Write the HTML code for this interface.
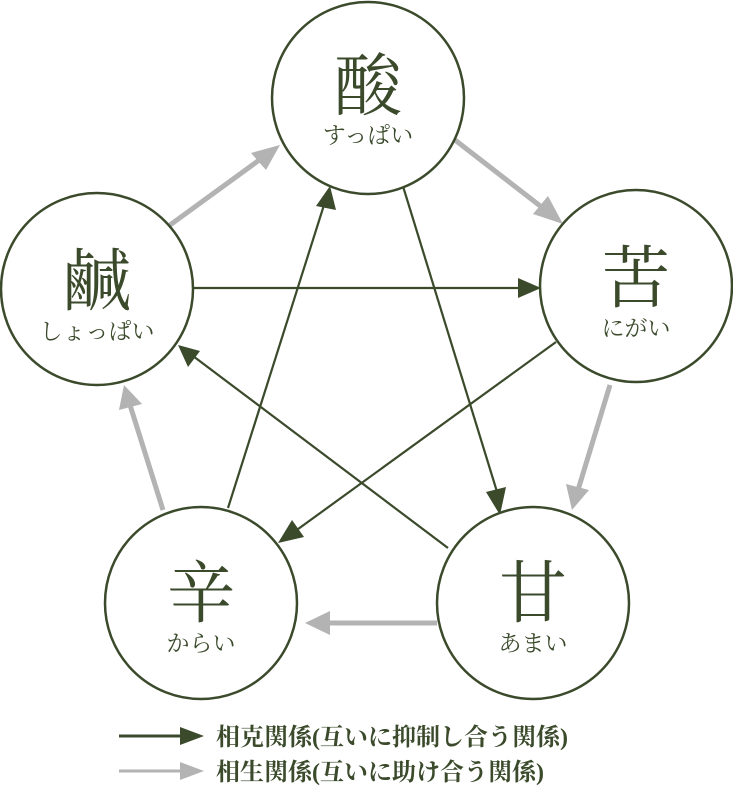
<!DOCTYPE html>
<html><head><meta charset="utf-8"><style>
html,body{margin:0;padding:0;background:#fff;}
svg{display:block;}
.big{font-family:"Liberation Serif","Noto Serif CJK SC",serif;font-size:68px;fill:#3a4a2b;text-anchor:middle;}
.sm{font-family:"Liberation Serif","Noto Serif CJK SC",serif;font-size:23px;fill:#3a4a2b;text-anchor:middle;}
.lg{font-family:"Liberation Serif","Noto Serif CJK SC",serif;font-size:24px;fill:#3a4a2b;font-weight:bold;}
</style></head><body>
<svg width="733" height="786" viewBox="0 0 733 786" xmlns="http://www.w3.org/2000/svg">
<g stroke="#3a4a2b" stroke-width="2.2" fill="none">
<path d="M398 170 L498 495"/>
<path d="M193 288 L522 288"/>
<path d="M556 342 L294 532"/>
<path d="M448 548 L193 356"/>
<path d="M228 508 L324 205"/>
</g>
<g fill="#3a4a2b">
<polygon points="500,515 486,492 506,487"/>
<polygon points="541,288 518,278 518,298"/>
<polygon points="278,543 292,520 304,537"/>
<polygon points="178,345 200,351 188,367"/>
<polygon points="330,186 336,210 316,206"/>
</g>
<g stroke="#b3b3b3" stroke-width="5" fill="none">
<path d="M455 140 L548 212"/>
<path d="M610 385 L578 490"/>
<path d="M437 623 L325 623"/>
<path d="M163 510 L130 405"/>
<path d="M170 225 L262 158"/>
</g>
<g fill="#b3b3b3">
<polygon points="563,224 533,214 548,196"/>
<polygon points="572,510 566,484 589,490"/>
<polygon points="305,623 330,611 330,635"/>
<polygon points="124,385 142,404 119,410"/>
<polygon points="280,145 266,170 251,153"/>
</g>
<g fill="#fff" stroke="#3a4a2b" stroke-width="2.5">
<circle cx="368" cy="98" r="96"/>
<circle cx="636" cy="286" r="96"/>
<circle cx="533" cy="603" r="96"/>
<circle cx="201" cy="603" r="96"/>
<circle cx="97" cy="289" r="96"/>
</g>
<text class="big" x="368" y="110">酸</text><text class="sm" x="368" y="143">すっぱい</text>
<text class="big" x="636" y="302">苦</text><text class="sm" x="636" y="336">にがい</text>
<text class="big" x="533" y="617">甘</text><text class="sm" x="533" y="651">あまい</text>
<text class="big" x="201" y="617">辛</text><text class="sm" x="201" y="651">からい</text>
<text class="big" x="97" y="305">鹹</text><text class="sm" x="97" y="339">しょっぱい</text>
<path d="M119 736 L186 736" stroke="#3a4a2b" stroke-width="3"/>
<polygon points="180,727 204,736 180,745" fill="#3a4a2b"/>
<path d="M119 771 L186 771" stroke="#b3b3b3" stroke-width="3"/>
<polygon points="180,762 204,771 180,780" fill="#b3b3b3"/>
<text class="lg" x="216" y="745">相克関係(互いに抑制し合う関係)</text>
<text class="lg" x="216" y="780">相生関係(互いに助け合う関係)</text>
</svg>
</body></html>
